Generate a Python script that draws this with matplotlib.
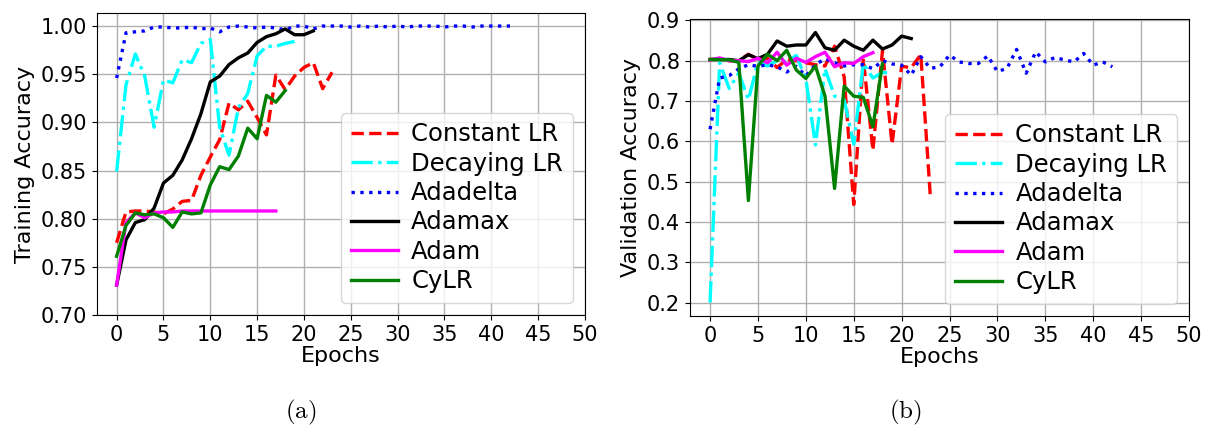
import matplotlib
matplotlib.use("Agg")
import matplotlib.pyplot as plt
import numpy as np

# training accuracy per epoch
const_train = [0.775, 0.807, 0.808, 0.808, 0.807, 0.805, 0.810, 0.818, 0.819, 0.845,
               0.864, 0.882, 0.920, 0.913, 0.922, 0.905, 0.887, 0.949, 0.934, 0.948,
               0.957, 0.962, 0.935, 0.952]
decay_train = [0.849, 0.939, 0.971, 0.948, 0.895, 0.944, 0.941, 0.965, 0.962, 0.982,
               0.986, 0.895, 0.866, 0.915, 0.930, 0.969, 0.979, 0.979, 0.982, 0.984]
adadelta_train = [0.946, 0.993, 0.994, 0.995, 0.999, 0.999, 0.998, 0.998, 0.999, 0.997,
                  0.998, 0.994, 0.999, 1.000, 0.999, 0.998, 0.999, 0.998, 0.996, 1.000,
                  1.000, 0.997, 1.000, 1.000, 1.000, 0.999, 1.000, 0.999, 1.000, 0.999,
                  1.000, 0.999, 1.000, 1.000, 1.000, 0.999, 1.000, 1.000, 0.999, 1.000,
                  1.000, 1.000, 1.000]
adamax_train = [0.731, 0.778, 0.796, 0.799, 0.811, 0.837, 0.845, 0.861, 0.883, 0.909,
                0.942, 0.948, 0.960, 0.967, 0.972, 0.983, 0.989, 0.992, 0.997, 0.991,
                0.991, 0.995]
adam_train = [0.731, 0.796, 0.806, 0.801, 0.806, 0.807, 0.807, 0.808, 0.808, 0.808,
              0.808, 0.808, 0.808, 0.808, 0.808, 0.808, 0.808, 0.808]
cylr_train = [0.761, 0.793, 0.806, 0.804, 0.805, 0.801, 0.791, 0.807, 0.805, 0.806,
              0.835, 0.854, 0.851, 0.865, 0.894, 0.883, 0.928, 0.921, 0.933]

# validation accuracy per epoch
const_val = [0.803, 0.805, 0.800, 0.800, 0.816, 0.803, 0.806, 0.783, 0.803, 0.800,
             0.795, 0.790, 0.787, 0.836, 0.760, 0.443, 0.805, 0.578, 0.825, 0.593,
             0.786, 0.783, 0.815, 0.462]
decay_val = [0.200, 0.795, 0.731, 0.770, 0.703, 0.796, 0.787, 0.800, 0.797, 0.813,
             0.755, 0.591, 0.780, 0.712, 0.703, 0.593, 0.793, 0.757, 0.771, 0.769]
adadelta_val = [0.630, 0.757, 0.763, 0.780, 0.790, 0.786, 0.790, 0.785, 0.772, 0.786,
                0.762, 0.790, 0.805, 0.795, 0.787, 0.790, 0.790, 0.780, 0.800, 0.792,
                0.789, 0.764, 0.810, 0.781, 0.785, 0.814, 0.797, 0.793, 0.793, 0.812,
                0.773, 0.781, 0.828, 0.769, 0.822, 0.797, 0.808, 0.802, 0.797, 0.818,
                0.789, 0.797, 0.785]
adamax_val = [0.803, 0.803, 0.803, 0.800, 0.815, 0.805, 0.816, 0.849, 0.836, 0.839,
              0.839, 0.870, 0.832, 0.826, 0.851, 0.836, 0.826, 0.851, 0.829, 0.839,
              0.861, 0.855]
adam_val = [0.802, 0.807, 0.800, 0.800, 0.798, 0.806, 0.795, 0.821, 0.789, 0.806,
            0.796, 0.810, 0.821, 0.785, 0.795, 0.793, 0.810, 0.820]
cylr_val = [0.803, 0.803, 0.802, 0.796, 0.453, 0.787, 0.816, 0.800, 0.826, 0.777,
            0.756, 0.787, 0.712, 0.483, 0.737, 0.712, 0.709, 0.636, 0.793]

labels = ["Constant LR", "Decaying LR", "Adadelta", "Adamax", "Adam", "CyLR"]
styles = [("red", "--"), ("cyan", "-."), ("blue", ":"), ("black", "-"),
          ("magenta", "-"), ("green", "-")]
x_ticks = list(range(0, 51, 5))


def draw(ax, series, ylabel):
    for values, label, (color, ls) in zip(series, labels, styles):
        ax.plot(np.arange(len(values)), values, color=color, linestyle=ls,
                linewidth=2.4, label=label)
    ax.set_xticks(x_ticks)
    ax.set_xlim(-2.1, 50)
    ax.set_xlabel("Epochs", fontsize=16, labelpad=1)
    ax.set_ylabel(ylabel, fontsize=16)
    ax.tick_params(labelsize=15)
    ax.grid(True, color="#b0b0b0", linewidth=1.0)
    ax.legend(loc="lower right", fontsize=17.5, labelspacing=0.22,
              handlelength=1.95, handletextpad=0.55)


plt.rcParams["mathtext.fontset"] = "cm"
fig = plt.figure(figsize=(12.06, 4.32), dpi=100)

ax1 = fig.add_axes([0.0804, 0.2708, 0.4046, 0.699])
draw(ax1, [const_train, decay_train, adadelta_train, adamax_train, adam_train, cylr_train],
     "Training Accuracy")
ax1.set_ylim(0.70, 1.0135)
ax1.set_yticks([0.70, 0.75, 0.80, 0.85, 0.90, 0.95, 1.00])

ax2 = fig.add_axes([0.5721, 0.2685, 0.4138, 0.6875])
draw(ax2, [const_val, decay_val, adadelta_val, adamax_val, adam_val, cylr_val],
     "Validation Accuracy")
ax2.set_ylim(0.1665, 0.9035)
ax2.set_yticks([0.2, 0.3, 0.4, 0.5, 0.6, 0.7, 0.8, 0.9])

fig.text(0.249, 0.045, r"$\mathrm{(a)}$", ha="center", va="center", fontsize=18)
fig.text(0.751, 0.045, r"$\mathrm{(b)}$", ha="center", va="center", fontsize=18)

fig.savefig("out.png", dpi=100)
